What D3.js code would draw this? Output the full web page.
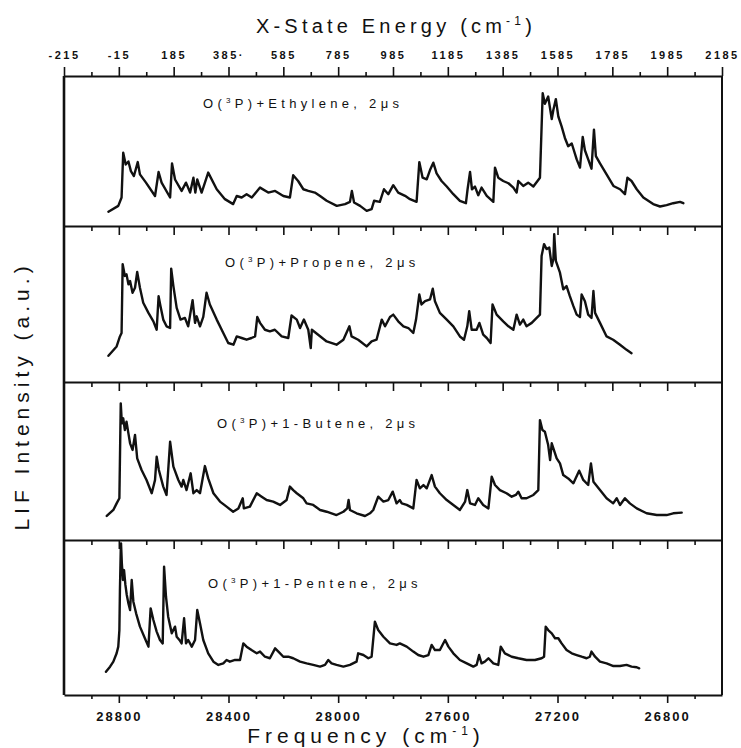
<!DOCTYPE html>
<html><head><meta charset="utf-8">
<script src="https://cdn.jsdelivr.net/npm/d3@7"></script>
<style>
body{margin:0;background:#fff}
text{font-family:"Liberation Sans",Arial,sans-serif;fill:#111}
</style>
</head><body>
<svg id="chart" width="741" height="748"></svg>
<script>
// ---------------- DATA ----------------
const reactants = ["Ethylene", "Propene", "1-Butene", "1-Pentene"];
const delayLabel = "2\u03bcs";

// [frequency (cm^-1), LIF intensity (a.u., % of panel)]
const ethylene = [[28838,9.5],[28802,13.4],[28790,19],[28784,48.8],[28775,41],[28765,43],[28756,36.6],[28745,33.3],[28731,42.6],[28723,34.4],[28701,28.9],[28668,20],[28655,36],[28644,28.9],[28613,19],[28606,41.7],[28595,31],[28571,23.4],[28555,28.9],[28540,22.3],[28528,32.2],[28521,22.3],[28514,31],[28498,22.3],[28474,35.6],[28443,24.5],[28413,17.9],[28383,14.6],[28370,20],[28352,19],[28334,21.2],[28315,19],[28285,25.6],[28255,22.3],[28230,23.4],[28200,20],[28176,19],[28164,33.8],[28146,30],[28127,24.5],[28109,23.4],[28085,22.3],[28066,20],[28042,16.8],[28005,13.4],[27975,14.6],[27957,16.1],[27950,23.4],[27942,15.7],[27920,13.4],[27896,10.1],[27878,11.3],[27869,16.8],[27848,16.1],[27833,24.5],[27817,21.2],[27799,27.2],[27781,22.3],[27756,20.1],[27738,17.9],[27714,16.1],[27704,42.6],[27692,32.2],[27677,31.1],[27665,37.3],[27653,42.2],[27641,35.1],[27623,30],[27604,26.3],[27580,21.2],[27556,16.8],[27534,15.2],[27528,24.5],[27519,36],[27512,24.5],[27501,26.3],[27489,20.5],[27477,25.6],[27458,20.1],[27434,16.1],[27428,38.9],[27416,32.2],[27398,30],[27379,28.5],[27361,25.6],[27349,22.3],[27343,30],[27325,26.7],[27307,28.9],[27288,26.3],[27264,32.2],[27254,88.5],[27246,81.5],[27234,86.3],[27221,71.3],[27215,77.5],[27206,84.6],[27197,73],[27185,66.4],[27173,58.7],[27161,53.2],[27148,55],[27130,44.4],[27118,38.9],[27108,59.4],[27100,50.5],[27088,44.4],[27076,38.2],[27067,64.2],[27060,46.6],[27045,41.7],[27021,34.4],[26996,26.7],[26972,24.5],[26954,21.2],[26945,32.2],[26930,30],[26911,24.5],[26887,19],[26851,14.6],[26826,13],[26802,13.9],[26778,15.2],[26753,16.1],[26741,15.2]];

const propene = [[28838,16.8],[28808,22.8],[28796,29.2],[28790,31.4],[28786,75.5],[28778,68],[28772,69],[28765,62.6],[28759,64.7],[28750,57.2],[28741,60.4],[28733,70.5],[28723,60.4],[28711,50.8],[28692,44.3],[28674,38.9],[28662,33.5],[28655,55],[28648,48.6],[28638,40],[28626,35.7],[28613,34.6],[28609,72.7],[28601,61.5],[28589,47.5],[28575,40],[28559,41.1],[28547,35.7],[28531,52.5],[28522,37.9],[28516,42.1],[28504,35.7],[28492,41.7],[28480,57.2],[28468,49.7],[28443,40],[28419,31.4],[28401,25],[28382,23.9],[28370,29.2],[28352,28.2],[28334,27.1],[28316,28.2],[28303,29.2],[28295,41.7],[28285,37.9],[28267,33.5],[28249,32.5],[28231,33.5],[28206,29.2],[28182,28.2],[28170,42.6],[28151,40],[28139,34.6],[28125,40],[28109,33.5],[28100,21.7],[28096,33.5],[28073,30.3],[28042,26],[28006,23.9],[27981,27.1],[27959,35.7],[27951,29.2],[27927,27.1],[27896,22.8],[27878,26],[27860,27.1],[27841,40],[27829,35.7],[27811,41.7],[27799,43.2],[27781,38.9],[27762,35.7],[27744,34.6],[27726,31.4],[27716,40],[27704,56.1],[27696,49.7],[27683,51.8],[27665,52.9],[27655,59.8],[27647,51.8],[27629,44.3],[27604,40],[27580,35.7],[27556,29.2],[27541,27.1],[27529,35.7],[27522,45.4],[27513,33.5],[27495,33.5],[27485,37.9],[27471,30.3],[27458,28.2],[27444,25],[27437,49.7],[27422,43.2],[27398,38.9],[27379,35.7],[27361,33.5],[27349,43.2],[27337,36.8],[27325,40],[27313,35.7],[27294,37.9],[27276,41.1],[27264,43.2],[27258,80.8],[27249,88.4],[27240,85.2],[27230,86.2],[27221,74.4],[27215,78.7],[27212,94.8],[27206,77.6],[27191,70.1],[27179,59.4],[27167,61.5],[27155,55],[27142,48.6],[27130,43.2],[27118,41.7],[27112,56.1],[27100,51.8],[27088,43.2],[27076,41.1],[27069,58.3],[27063,44.3],[27045,37.9],[27021,29.2],[26997,27.1],[26972,23.9],[26948,20.6],[26930,18.5]];

const butene = [[28844,15.2],[28820,19],[28808,23.2],[28798,26.4],[28793,86.5],[28789,73.8],[28784,77],[28778,69.6],[28772,74.9],[28765,67.5],[28759,61.2],[28750,57],[28741,66.5],[28733,51.7],[28717,44.3],[28699,38],[28680,29.6],[28668,38],[28662,52.7],[28654,44.3],[28638,33.8],[28626,28.5],[28613,62.2],[28601,46.4],[28583,38],[28571,33.8],[28565,38],[28553,31.6],[28538,42.2],[28528,29.6],[28516,31.6],[28504,29.6],[28486,46.8],[28474,39],[28455,29.6],[28431,24.3],[28407,21.1],[28383,17.9],[28364,20],[28348,26.4],[28344,20],[28322,21.1],[28297,29.6],[28279,27.4],[28261,25.3],[28237,24.3],[28212,22.2],[28188,25.3],[28176,33.8],[28164,31.6],[28151,29.6],[28127,26.4],[28115,23.2],[28091,22.2],[28066,19],[28042,17.9],[28006,15.8],[27981,17.9],[27967,20],[27962,25.3],[27957,19],[27933,16.9],[27902,15.2],[27884,16.9],[27872,19],[27854,27.4],[27835,24.3],[27817,25.3],[27801,30.6],[27787,23.2],[27775,25.3],[27768,23.2],[27750,22.2],[27726,20],[27714,38],[27702,32.7],[27689,34.8],[27677,32.7],[27659,41.1],[27647,33.8],[27629,29.6],[27604,25.3],[27580,22.2],[27556,19],[27537,24.3],[27529,31.6],[27519,23.2],[27501,22.2],[27489,26.4],[27471,22.2],[27452,20],[27440,40.1],[27428,34.8],[27410,31.6],[27386,29.6],[27367,27.4],[27352,28.5],[27343,30.6],[27331,26.4],[27313,26.4],[27288,28.5],[27270,31.6],[27264,75.9],[27255,69.6],[27246,68.5],[27234,60.1],[27227,50.6],[27221,61.2],[27215,58],[27203,51.7],[27191,48.5],[27179,41.1],[27161,39],[27142,35.9],[27121,43.9],[27106,38],[27088,34.8],[27078,48.5],[27069,36.9],[27045,31.6],[27021,26.4],[26997,23.2],[26984,26.4],[26972,22.2],[26954,26.4],[26936,23.2],[26911,20],[26875,16.9],[26838,15.8],[26802,15.8],[26778,16.9],[26747,17.3]];

const pentene = [[28847,15],[28832,18.3],[28820,21.5],[28808,26.9],[28802,31.2],[28798,41.9],[28796,67.7],[28793,93.5],[28792,97.8],[28789,85],[28785,74.2],[28781,80.6],[28776,71],[28771,64.5],[28765,59.1],[28759,54.8],[28753,74.2],[28747,60.2],[28737,52.7],[28723,44.1],[28705,36.6],[28692,31.2],[28684,55.9],[28674,48.4],[28662,40.9],[28650,35.5],[28640,33.3],[28635,82.8],[28628,63.4],[28620,50.5],[28607,39.8],[28595,44.1],[28589,37.6],[28579,35.5],[28571,33.3],[28562,49.5],[28555,33.3],[28547,35.5],[28534,31.2],[28522,35.5],[28514,54.8],[28504,46.3],[28492,35.5],[28474,26.9],[28455,21.5],[28437,19.4],[28419,20.4],[28407,22.6],[28395,21.5],[28376,22.6],[28358,22.6],[28346,33.3],[28334,31.2],[28316,29],[28297,26.9],[28285,28],[28267,24.7],[28249,23.7],[28230,30.1],[28218,28],[28200,24.7],[28182,24.7],[28164,23.7],[28139,21.5],[28115,20.4],[28091,19.4],[28066,18.3],[28048,19.4],[28036,22.6],[28024,20.4],[28006,19.4],[27981,18.3],[27957,19.4],[27933,21.5],[27927,26.9],[27908,25.8],[27890,23.7],[27878,24.7],[27866,47.3],[27854,41.9],[27835,37.6],[27811,33.3],[27787,32.3],[27775,33.3],[27750,31.2],[27726,28],[27708,25.8],[27689,24.7],[27671,25.8],[27659,32.3],[27647,29],[27629,29],[27610,35.5],[27598,31.2],[27580,26.9],[27556,22.6],[27531,20.4],[27507,18.3],[27495,19.4],[27486,25.8],[27477,20.4],[27465,21.5],[27452,23.7],[27434,20.4],[27416,19.4],[27407,31.2],[27392,26.9],[27367,24.7],[27343,23.7],[27313,22.6],[27282,22.6],[27258,23.7],[27249,24.7],[27243,44.1],[27234,41.9],[27221,39.8],[27209,36.6],[27197,36.6],[27185,33.3],[27167,29],[27148,26.9],[27130,25.8],[27112,24.7],[27094,23.7],[27082,24.7],[27076,28],[27063,24.7],[27045,21.5],[27021,20.4],[26996,18.7],[26972,18.7],[26948,19.4],[26930,18.3],[26911,17.9],[26902,17.2]];

const spectra = [ethylene, propene, butene, pentene];

// axes
const freqDomain = [29000, 26600];
const energyDomain = [-215, 2185];
const energyTickValues = [-215, -15, 185, 385, 585, 785, 985, 1185, 1385, 1585, 1785, 1985, 2185];
const energyTickLabels = ["-215", "-15", "185", "385\u00b7", "585", "785", "985", "1185", "1385", "1585", "1785", "1985", "2185"];
const freqTickValues = [28800, 28400, 28000, 27600, 27200, 26800];
const freqTickLabels = ["28800", "28400", "28000", "27600", "27200", "26800"];

// ---------------- LAYOUT ----------------
const L = 64, R = 722;
const panelTops = [76, 226, 382, 540];
const panelBottom = 695;
const labelPos = [[203, 108], [225, 267], [217, 428], [208, 588]];

const svg = d3.select("#chart");
const x = d3.scaleLinear().domain(freqDomain).range([L, R]);
const xE = d3.scaleLinear().domain(energyDomain).range([L, R]);

const ink = "#111";

// top axis (X-state energy)
const gTop = svg.append("g").attr("transform", `translate(0,${panelTops[0]})`);
gTop.call(d3.axisTop(xE).tickValues(energyTickValues)
  .tickFormat((d, i) => energyTickLabels[i]).tickSize(9).tickSizeOuter(0).tickPadding(8));
svg.append("g").attr("transform", `translate(0,${panelTops[0]})`)
  .call(d3.axisTop(xE).tickValues(d3.range(-115, 2185, 200)).tickFormat("").tickSize(4).tickSizeOuter(0))
  .select(".domain").remove();
gTop.selectAll("text").style("font-size", "11px").style("font-weight", "bold").style("letter-spacing", "2.5px");

// bottom axis (frequency)
const gBot = svg.append("g").attr("transform", `translate(0,${panelBottom})`);
gBot.call(d3.axisBottom(x).tickValues(freqTickValues)
  .tickFormat((d, i) => freqTickLabels[i]).tickSize(8).tickSizeOuter(0).tickPadding(9));
svg.append("g").attr("transform", `translate(0,${panelBottom})`)
  .call(d3.axisBottom(x).tickValues(d3.range(28900, 26600, -100).filter(v => (28800 - v) % 400 !== 0))
    .tickFormat("").tickSize(4).tickSizeOuter(0))
  .select(".domain").remove();
gBot.selectAll("text").style("font-size", "13px").style("font-weight", "bold").style("letter-spacing", "2px");

// internal separators with inward ticks
panelTops.slice(1).forEach(t => {
  svg.append("g").attr("transform", `translate(0,${t})`)
    .call(d3.axisBottom(x).tickValues(d3.range(28800, 26600, -200)).tickFormat("").tickSize(9).tickSizeOuter(0));
  svg.append("g").attr("transform", `translate(0,${t})`)
    .call(d3.axisBottom(x).tickValues(d3.range(28900, 26600, -200)).tickFormat("").tickSize(5).tickSizeOuter(0))
    .select(".domain").remove();
});

svg.selectAll(".domain").attr("stroke", ink).attr("stroke-width", 2);
svg.selectAll(".tick line").attr("stroke", ink).attr("stroke-width", 1.6);
svg.selectAll(".tick text").attr("fill", ink);

// frame sides
svg.append("line").attr("x1", L).attr("x2", L).attr("y1", panelTops[0]).attr("y2", panelBottom)
  .attr("stroke", ink).attr("stroke-width", 2.6);
svg.append("line").attr("x1", R).attr("x2", R).attr("y1", panelTops[0]).attr("y2", panelBottom)
  .attr("stroke", ink).attr("stroke-width", 2);

// spectra
spectra.forEach((data, i) => {
  const top = panelTops[i];
  const bottom = i < 3 ? panelTops[i + 1] : panelBottom;
  const y = d3.scaleLinear().domain([0, 100]).range([bottom, top]);
  const line = d3.line().x(d => x(d[0])).y(d => y(d[1]));
  svg.append("path").datum(data).attr("d", line)
    .attr("fill", "none").attr("stroke", ink).attr("stroke-width", 2.4)
    .attr("stroke-linejoin", "round").attr("stroke-linecap", "round");

  const t = svg.append("text").attr("x", labelPos[i][0]).attr("y", labelPos[i][1])
    .style("font-size", "13px").style("letter-spacing", "4.3px");
  t.append("tspan").text("O(");
  t.append("tspan").attr("dy", -5).style("font-size", "8px").text("3");
  t.append("tspan").attr("dy", 5).text("P)+" + reactants[i] + ", " + delayLabel);
});

// titles
const tt = svg.append("text").attr("x", 396).attr("y", 33).attr("text-anchor", "middle")
  .style("font-size", "20px").style("letter-spacing", "4.2px");
tt.append("tspan").text("X-State Energy (cm");
tt.append("tspan").attr("dy", -8).style("font-size", "12px").text("-1");
tt.append("tspan").attr("dy", 8).text(")");

const bt = svg.append("text").attr("x", 366).attr("y", 743).attr("text-anchor", "middle")
  .style("font-size", "21px").style("letter-spacing", "5px");
bt.append("tspan").text("Frequency (cm");
bt.append("tspan").attr("dy", -8).style("font-size", "12px").text("-1");
bt.append("tspan").attr("dy", 8).text(")");

svg.append("text").attr("transform", "translate(29,396) rotate(-90)").attr("text-anchor", "middle")
  .style("font-size", "21px").style("letter-spacing", "5px").text("LIF Intensity (a.u.)");
</script>
</body></html>
